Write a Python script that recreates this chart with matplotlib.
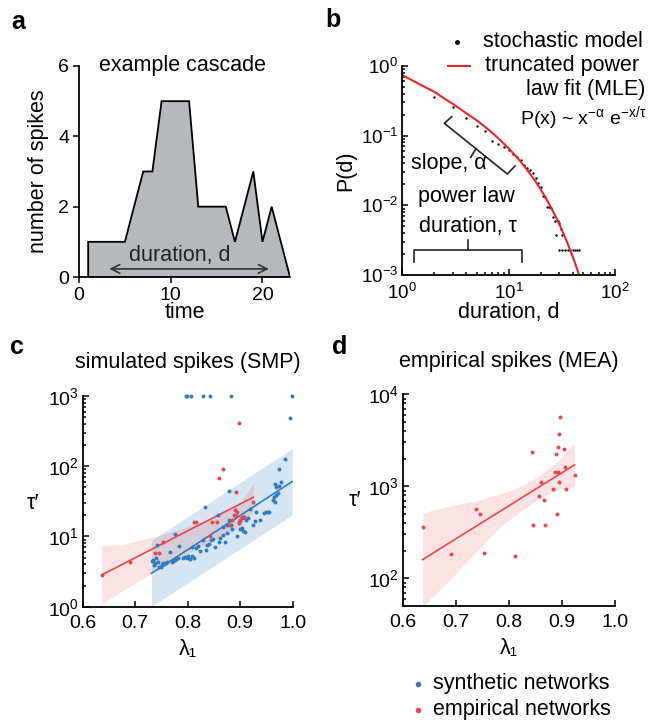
import numpy as np
import matplotlib
matplotlib.use('Agg')
import matplotlib.pyplot as plt
from matplotlib.lines import Line2D

# ---- panel a: example cascade
cascade_t = [1, 1, 5, 7, 8, 9, 12, 13, 16, 17, 19, 20, 21, 23]
cascade_n = [0, 1, 1, 3, 3, 5, 5, 2, 2, 1, 3, 1, 2, 0]

# ---- panel b: duration distribution
model_d = [2, 3, 4, 5, 6, 7, 8, 9, 10, 11, 12, 13, 14, 15, 16, 17, 18, 19, 20,
           21, 22, 23, 24, 25, 26, 27, 28, 29, 30, 31, 32,
           30, 32, 34, 36, 38, 40, 42, 44, 46]
model_p = [0.355, 0.255, 0.182, 0.136, 0.117, 0.085, 0.076, 0.068, 0.062, 0.055,
           0.049, 0.0447, 0.038, 0.034, 0.0324, 0.0288, 0.0245, 0.0209, 0.0186,
           0.0135, 0.0133, 0.0095, 0.0095, 0.0091, 0.0069, 0.0059, 0.0038, 0.0059,
           0.0056, 0.0045, 0.0038,
           0.0023, 0.0023, 0.0023, 0.0023, 0.0023, 0.0023, 0.0023, 0.0023, 0.0023]
fit_d = [1, 1.25, 1.5, 2, 2.5, 3, 4, 5, 6, 7, 8, 10, 12, 13, 16, 18, 20, 22, 25,
         28, 30, 33, 35, 38, 40, 43, 46, 48]
fit_p = [0.743, 0.619, 0.532, 0.427, 0.339, 0.285, 0.210, 0.166, 0.134, 0.110,
         0.0916, 0.0658, 0.0486, 0.0421, 0.028, 0.0217, 0.0169, 0.0133, 0.00935,
         0.00667, 0.00535, 0.00385, 0.00311, 0.00226, 0.00184, 0.00135, 0.00099,
         0.00081]

# ---- panel c: simulated spikes (SMP)
syn_lam = [0.9853, 0.9739, 0.9662, 0.9770, 0.9681, 0.9732, 0.9713, 0.9681, 0.9643,
           0.9618, 0.9656, 0.9554, 0.9523, 0.9491, 0.9453, 0.9377, 0.9301, 0.9288,
           0.9237, 0.9155, 0.9110, 0.9072, 0.9028, 0.8983, 0.9028, 0.9059, 0.9091,
           0.8996, 0.8932, 0.8837, 0.8818, 0.8793, 0.8754, 0.8742, 0.8710, 0.8678,
           0.8666, 0.8615, 0.8602, 0.8570, 0.8520, 0.8475, 0.8437, 0.8412, 0.8374,
           0.8348, 0.8297, 0.8234, 0.8202, 0.8158, 0.8120, 0.8075, 0.8043, 0.8012,
           0.7980, 0.7948, 0.7916, 0.8075, 0.7840, 0.7808, 0.7777, 0.7751, 0.7726,
           0.7694, 0.7662, 0.7612, 0.7580, 0.7554, 0.7535, 0.7516, 0.7491, 0.7459,
           0.7428, 0.7396, 0.7377, 0.7358, 0.7332, 0.7408, 0.7758, 0.8329, 0.8786,
           0.9186, 0.7320,
           0.7968, 0.7990, 0.8069, 0.8291, 0.8425, 0.8819, 0.9992, 0.9955]
syn_tau = [125.6, 90.6, 56.0, 59.0, 50.2, 52.4, 42.1, 39.0, 36.9, 33.1, 31.4, 22.6,
           22.4, 22.1, 21.9, 17.2, 22.3, 16.8, 14.6, 18.1, 17.2, 19.2, 18.1, 16.3,
           13.1, 12.1, 11.7, 12.7, 10.2, 12.7, 14.6, 17.2, 14.6, 11.1, 8.3, 10.5,
           13.5, 9.4, 8.3, 20.2, 7.0, 9.1, 8.9, 7.7, 7.6, 6.4, 8.9, 6.3, 7.2, 6.8,
           5.0, 5.3, 4.8, 5.2, 5.0, 5.05, 4.9, 7.0, 7.3, 4.9, 4.7, 4.6, 4.5, 4.3,
           6.1, 4.4, 4.15, 4.0, 4.15, 3.9, 3.7, 3.65, 4.4, 4.9, 4.15, 3.9, 4.6,
           7.6, 10.8, 26.0, 45.0, 24.4, 4.5,
           1000, 1000, 1000, 1000, 1000, 1000, 1000, 492]
emp_lam_c = [0.8672, 0.8602, 0.8913, 0.9237, 0.8901, 0.8932, 0.8888, 0.8920, 0.9034,
             0.9078, 0.8996, 0.8843, 0.8564, 0.8456, 0.8126, 0.8158, 0.8424, 0.7535,
             0.7377, 0.7453, 0.8983, 0.8805, 0.6900, 0.6362, 0.8983]
emp_tau_c = [90.6, 67.3, 43.0, 31.3, 23.8, 22.6, 20.2, 19.6, 19.1, 19.1, 17.2, 17.2,
             16.1, 16.1, 16.1, 16.1, 10.2, 8.4, 5.9, 5.9, 15.4, 14.6, 4.3, 2.83, 410]
syn_fit_lam = [0.731, 0.999]
syn_fit_tau = [2.99, 60.4]
syn_band_lam = [0.731, 0.999]
syn_band_lo = [1.01, 20.2]
syn_band_hi = [8.8, 178]
emp_fit_lam_c = [0.636, 0.925]
emp_fit_tau_c = [2.83, 36.2]
emp_band_lam_c = [0.636, 0.68, 0.72, 0.76, 0.80, 0.84, 0.88, 0.90, 0.925]
emp_band_lo_c = [1.09, 1.77, 2.66, 3.97, 5.75, 8.2, 11.6, 13.8, 22.8]
emp_band_hi_c = [7.36, 7.79, 9.33, 11.2, 13.8, 17.4, 24.2, 29.6, 57.4]

# ---- panel d: empirical spikes (MEA)
emp_lam_d = [0.6376, 0.6911, 0.7376, 0.7458, 0.7527, 0.8119, 0.8427, 0.8458, 0.8565,
             0.8603, 0.8666, 0.8672, 0.8836, 0.8867, 0.8886, 0.8917, 0.8905, 0.8924,
             0.8936, 0.8936, 0.8968, 0.9043, 0.9050, 0.9075, 0.9238]
emp_tau_d = [357, 184, 565, 503, 188, 173, 2350, 379, 776, 1110, 702, 376, 931, 1436,
             2250, 1426, 503, 2700, 3680, 1120, 5620, 2530, 1615, 931, 1313]
emp_fit_lam_d = [0.6376, 0.9238]
emp_fit_tau_d = [160, 1710]
emp_band_lam_d = [0.6376, 0.683, 0.7458, 0.78, 0.8087, 0.8528, 0.8905, 0.9238]
emp_band_lo_d = [49.8, 89, 213, 345, 470, 711, 916, 995]
emp_band_hi_d = [512, 604, 713, 818, 922, 1250, 1840, 2940]

RED = '#e8464b'
BLUE = '#2f7dbf'
W, H = 652, 721
FS = 15.5
TS = 14


def fx(x):
    return x / W


def fy(y):
    return 1 - y / H


plt.rcParams['font.family'] = ['Liberation Sans', 'DejaVu Sans']
plt.rcParams['font.size'] = FS
plt.rcParams['mathtext.fontset'] = 'custom'
plt.rcParams['mathtext.rm'] = 'Liberation Sans'
plt.rcParams['mathtext.it'] = 'Liberation Sans'
plt.rcParams['mathtext.default'] = 'regular'
plt.rcParams['axes.unicode_minus'] = False

fig = plt.figure(figsize=(6.52, 7.21), dpi=100)


def style(ax, direction='in'):
    for s in ['top', 'right']:
        ax.spines[s].set_visible(False)
    for s in ['left', 'bottom']:
        ax.spines[s].set_linewidth(1.3)
    ax.tick_params(which='both', direction=direction, labelsize=TS, width=1.1)
    ax.tick_params(which='major', length=4)
    ax.tick_params(which='minor', length=2.5)
    ax.tick_params(axis='y', pad=3)


# panel a
ax = fig.add_axes([fx(79), fy(277), fx(211), 211 / H])
ax.fill(cascade_t, cascade_n, facecolor='#b6b9bb', edgecolor='black', lw=1.3)
ax.annotate('', xy=(21, 0.23), xytext=(3, 0.23),
            arrowprops=dict(arrowstyle='<->', color='#333333', lw=1.2))
ax.text(11, 0.62, 'duration, d', ha='center', va='center', color='#222222')
ax.text(11.3, 6, 'example cascade', ha='center', va='center')
ax.set_xlim(0, 23)
ax.set_ylim(0, 6)
ax.set_xticks([0, 10, 20])
ax.set_yticks([0, 2, 4, 6])
style(ax, 'out')
ax.tick_params(axis='x', pad=3)
ax.set_xlabel('time', labelpad=-1)
ax.set_ylabel('number of spikes', labelpad=7)

# panel b
ax = fig.add_axes([fx(402.3), fy(275), fx(212.7), 209 / H])
ax.plot(fit_d, fit_p, color='#e8262b', lw=1.5)
ax.scatter(model_d, model_p, s=3, color='black', lw=0)
ax.set_xscale('log')
ax.set_yscale('log')
ax.set_xlim(1, 100)
ax.set_ylim(1e-3, 1)
style(ax)
ax.tick_params(labelsize=13.5)
ax.tick_params(axis='x', pad=6)
ax.set_xlabel('duration, d', labelpad=-1)
ax.set_ylabel('P(d)', labelpad=3)
tr = ax.transAxes
ax.plot([0.2323, 0.1975, 0.4937, 0.5299], [0.7574, 0.7258, 0.4833, 0.5215],
        color='#222222', lw=1.2, transform=tr, clip_on=False)
ax.plot([0.3465, 0.3216], [0.6046, 0.5632], color='#222222', lw=1.2, transform=tr)
ax.plot([0.055, 0.055, 0.5613, 0.5613], [0.0636, 0.1196, 0.1196, 0.0636],
        color='#222222', lw=1.2, transform=tr)
ax.plot([0.3103, 0.3103], [0.1196, 0.1675], color='#222222', lw=1.2, transform=tr)
ax.text(0.22, 0.534, 'slope, α', transform=tr, ha='center', va='center')
ax.text(0.303, 0.375, 'power law', transform=tr, ha='center', va='center')
ax.text(0.309, 0.231, 'duration, τ', transform=tr, ha='center', va='center')

fig.add_artist(Line2D([fx(456.7)], [fy(41.7)], marker='o', ms=2.5, color='black',
                      transform=fig.transFigure))
fig.text(fx(483), fy(41.7), 'stochastic model', va='center')
fig.add_artist(Line2D([fx(447.7), fx(470)], [fy(65.7), fy(65.7)], color='#e8262b',
                      lw=1.5, transform=fig.transFigure))
fig.text(fx(485), fy(65.7), 'truncated power', va='center')
fig.text(fx(645), fy(90), 'law fit (MLE)', va='center', ha='right')
fig.text(fx(647), fy(118), r'P(x) ~ x$^{-α}$ e$^{-x/τ}$', va='center',
         ha='right', fontsize=14)

# panel c
ax = fig.add_axes([fx(82.7), fy(606.7), fx(210), 210.7 / H])
ax.fill_between(syn_band_lam, syn_band_lo, syn_band_hi, color=BLUE, alpha=0.2, lw=0)
ax.fill_between(emp_band_lam_c, emp_band_lo_c, emp_band_hi_c, color=RED, alpha=0.15,
                lw=0)
ax.plot(syn_fit_lam, syn_fit_tau, color=BLUE, lw=1.2)
ax.plot(emp_fit_lam_c, emp_fit_tau_c, color=RED, lw=1.2)
ax.scatter(syn_lam, syn_tau, s=8, color=BLUE, lw=0, clip_on=False, zorder=3)
ax.scatter(emp_lam_c, emp_tau_c, s=8, color=RED, lw=0, clip_on=False, zorder=3)
ax.set_yscale('log')
ax.set_xlim(0.6, 1.0)
ax.set_ylim(1, 1000)
ax.set_xticks([0.6, 0.7, 0.8, 0.9, 1.0])
style(ax)
ax.tick_params(axis='x', pad=6)
ax.set_xlabel('λ₁', labelpad=5)
ax.set_ylabel('τ′', rotation=0, va='center', ha='center')
ax.yaxis.set_label_coords(-0.237, 0.49)
ax.set_title('simulated spikes (SMP)', pad=20, fontsize=FS)

# panel d
ax = fig.add_axes([fx(402.7), fy(606), fx(212.3), 211.7 / H])
ax.fill_between(emp_band_lam_d, emp_band_lo_d, emp_band_hi_d, color=RED, alpha=0.15,
                lw=0)
ax.plot(emp_fit_lam_d, emp_fit_tau_d, color=RED, lw=1.2)
ax.scatter(emp_lam_d, emp_tau_d, s=8, color=RED, lw=0, zorder=3)
ax.set_yscale('log')
ax.set_xlim(0.6, 1.0)
ax.set_ylim(50, 10000)
ax.set_xticks([0.6, 0.7, 0.8, 0.9, 1.0])
style(ax)
ax.tick_params(axis='x', pad=6)
ax.set_xlabel('λ₁', labelpad=5)
ax.set_ylabel('τ′', rotation=0, va='center', ha='center')
ax.yaxis.set_label_coords(-0.225, 0.5)
ax.set_title('empirical spikes (MEA)', pad=20, fontsize=FS)

# legend below d
for yy, col, lab in [(684, BLUE, 'synthetic networks'), (710, RED, 'empirical networks')]:
    fig.add_artist(Line2D([fx(418)], [fy(yy)], marker='o', ms=3, color=col, lw=0,
                          transform=fig.transFigure))
    fig.text(fx(433), fy(yy), lab, va='center')

# panel letters
for x, y, s in [(18, 22, 'a'), (333, 20, 'b'), (17, 347, 'c'), (340, 347, 'd')]:
    fig.text(fx(x), fy(y), s, fontsize=18, fontweight='bold', ha='center', va='center')

fig.savefig('out.png', dpi=100)
